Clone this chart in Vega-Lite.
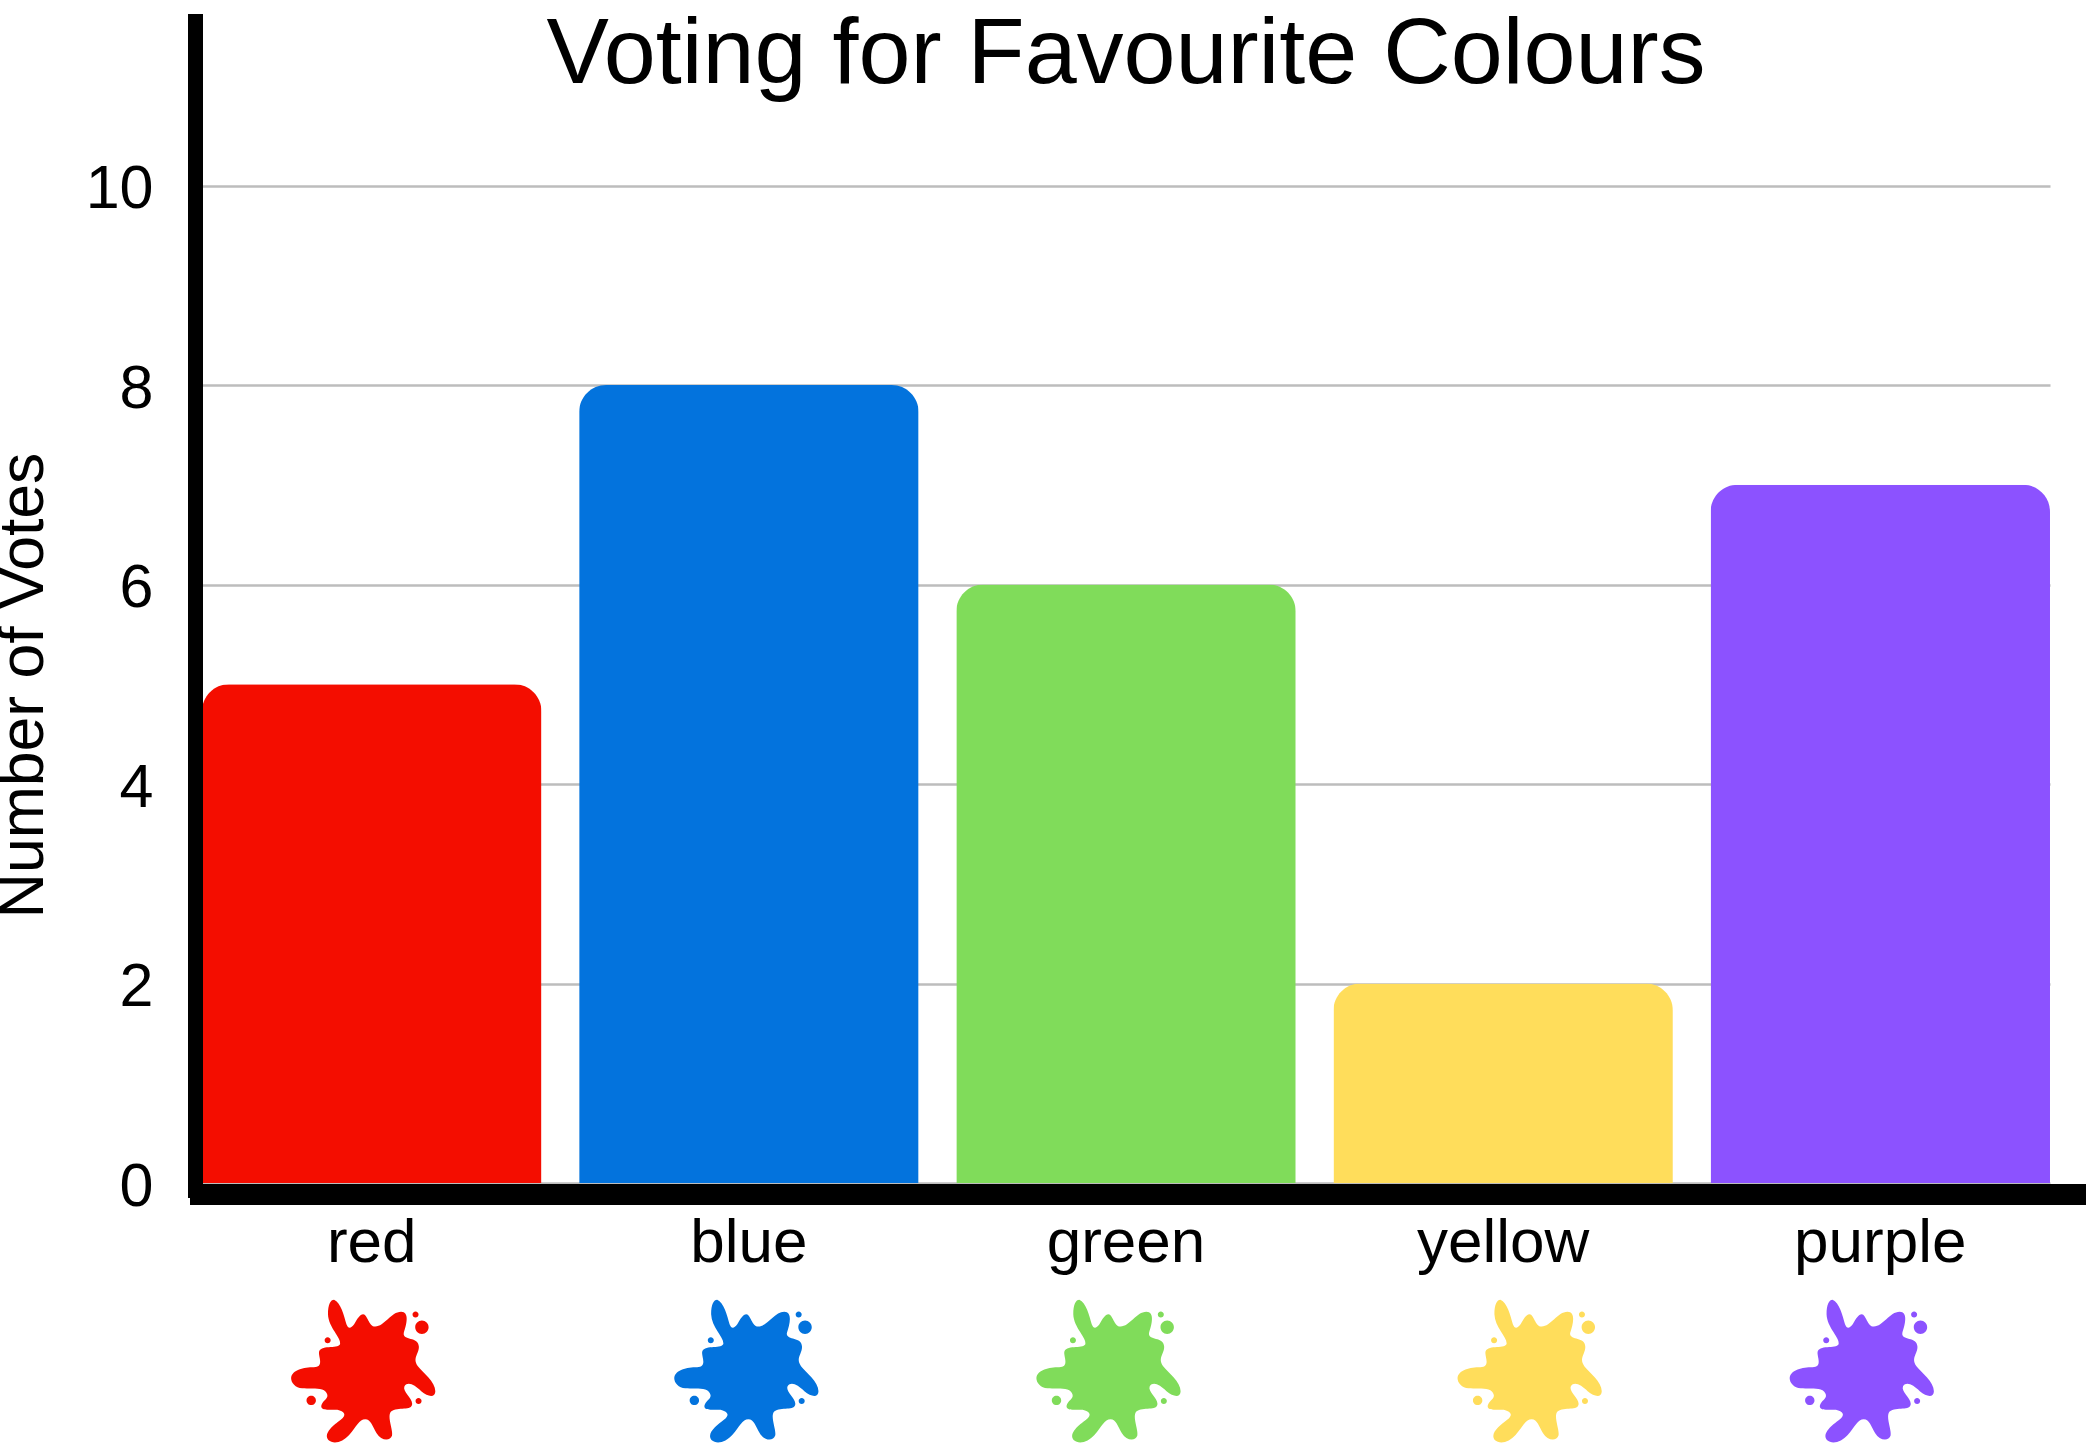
{
"$schema":"https://vega.github.io/schema/vega-lite/v6.json",
"width":1848,"height":1169,
"autosize":{"type":"none"},
"padding":{"left":202,"top":14,"right":38,"bottom":267},
"background":"white",
"view":{"stroke":null},
"data":{"values":[
{"colour":"red","votes":5},
{"colour":"blue","votes":8},
{"colour":"green","votes":6},
{"colour":"yellow","votes":2},
{"colour":"purple","votes":7}
]},
"resolve":{"scale":{"x":"independent"},"axis":{"x":"independent"}},
"layer":[
{"encoding":{"x":{"field":"colour","type":"nominal","sort":null,
 "scale":{"domain":["red","blue","green","yellow","purple"],"paddingInner":0.1,"paddingOuter":0},
 "axis":{"title":null,"domain":false,"ticks":false,"labelAngle":0,"labelFont":"Liberation Sans","labelFontSize":62,"labelColor":"black","labelPadding":29,"labelBaseline":"top","zindex":1}}},
 "layer":[
 {"mark":{"type":"bar","cornerRadiusTopLeft":27,"cornerRadiusTopRight":27},
  "encoding":{
   "y":{"field":"votes","type":"quantitative","scale":{"domain":[0,11.72],"nice":false,"zero":true},
    "axis":{"title":"Number of Votes","titleFont":"Liberation Sans","titleFontSize":62.5,"titleFontWeight":"normal","titleColor":"black","titleAnchor":null,"titleAlign":"center","titleBaseline":"alphabetic","titleX":-160,"titleY":671,"values":[0,2,4,6,8,10],"format":"d","domain":false,"ticks":false,"grid":true,"gridColor":"#bdbdbd","gridWidth":2.5,"labelFont":"Liberation Sans","labelFontSize":61,"labelColor":"black","labelPadding":49,"labelOffset":4,"zindex":0}},
   "color":{"field":"colour","type":"nominal","legend":null,"scale":{"domain":["red","blue","green","yellow","purple"],"range":["#f40d00","#0373dd","#80dc5a","#ffdd5b","#8c52ff"]}}
  }},
 {"transform":[{"filter":"datum.colour==='red'"}],"mark":{"type":"point","filled":true,"opacity":1,"xOffset":-7.5,"size":0.45,"color":"#f40d00","shape":"M-90,-208C-70,-200,-60,-160,-53,-135C-47,-120,-40,-122,-30,-135C-20,-152,-13,-165,-3,-165C10,-165,13,-128,33,-128C60,-128,80,-172,110,-172C135,-172,127,-135,118,-110C113,-85,163,-100,163,-68C163,-45,143,-35,160,-10C175,10,212,35,212,65C212,85,190,82,170,65C150,45,130,35,120,50C113,65,143,85,143,102C143,125,100,110,80,125C67,140,87,180,83,197C77,215,50,212,37,190C25,170,20,148,3,148C-15,148,-23,170,-45,195C-63,215,-90,225,-107,210C-123,190,-90,165,-70,150C-50,135,-60,125,-80,120C-100,118,-130,125,-128,108C-125,92,-107,88,-110,75C-115,50,-155,58,-185,56C-205,54,-218,40,-218,25C-215,0,-180,-7,-150,-7C-120,-7,-135,-35,-135,-50C-133,-75,-80,-60,-72,-75C-67,-95,-107,-125,-108,-165C-108,-195,-100,-208,-90,-208ZM152,-126a20,20 0 1,0 40,0a20,20 0 1,0 -40,0ZM144,-164a9,9 0 1,0 18,0a9,9 0 1,0 -18,0ZM-118,-87a9,9 0 1,0 18,0a9,9 0 1,0 -18,0ZM-172,92a14,14 0 1,0 28,0a14,14 0 1,0 -28,0ZM153,94a9,9 0 1,0 18,0a9,9 0 1,0 -18,0Z"},"encoding":{"y":{"datum":-1.87}}},
 {"transform":[{"filter":"datum.colour==='blue'"}],"mark":{"type":"point","filled":true,"opacity":1,"xOffset":-1.5,"size":0.45,"color":"#0373dd","shape":"M-90,-208C-70,-200,-60,-160,-53,-135C-47,-120,-40,-122,-30,-135C-20,-152,-13,-165,-3,-165C10,-165,13,-128,33,-128C60,-128,80,-172,110,-172C135,-172,127,-135,118,-110C113,-85,163,-100,163,-68C163,-45,143,-35,160,-10C175,10,212,35,212,65C212,85,190,82,170,65C150,45,130,35,120,50C113,65,143,85,143,102C143,125,100,110,80,125C67,140,87,180,83,197C77,215,50,212,37,190C25,170,20,148,3,148C-15,148,-23,170,-45,195C-63,215,-90,225,-107,210C-123,190,-90,165,-70,150C-50,135,-60,125,-80,120C-100,118,-130,125,-128,108C-125,92,-107,88,-110,75C-115,50,-155,58,-185,56C-205,54,-218,40,-218,25C-215,0,-180,-7,-150,-7C-120,-7,-135,-35,-135,-50C-133,-75,-80,-60,-72,-75C-67,-95,-107,-125,-108,-165C-108,-195,-100,-208,-90,-208ZM152,-126a20,20 0 1,0 40,0a20,20 0 1,0 -40,0ZM144,-164a9,9 0 1,0 18,0a9,9 0 1,0 -18,0ZM-118,-87a9,9 0 1,0 18,0a9,9 0 1,0 -18,0ZM-172,92a14,14 0 1,0 28,0a14,14 0 1,0 -28,0ZM153,94a9,9 0 1,0 18,0a9,9 0 1,0 -18,0Z"},"encoding":{"y":{"datum":-1.87}}},
 {"transform":[{"filter":"datum.colour==='green'"}],"mark":{"type":"point","filled":true,"opacity":1,"xOffset":-16.5,"size":0.45,"color":"#80dc5a","shape":"M-90,-208C-70,-200,-60,-160,-53,-135C-47,-120,-40,-122,-30,-135C-20,-152,-13,-165,-3,-165C10,-165,13,-128,33,-128C60,-128,80,-172,110,-172C135,-172,127,-135,118,-110C113,-85,163,-100,163,-68C163,-45,143,-35,160,-10C175,10,212,35,212,65C212,85,190,82,170,65C150,45,130,35,120,50C113,65,143,85,143,102C143,125,100,110,80,125C67,140,87,180,83,197C77,215,50,212,37,190C25,170,20,148,3,148C-15,148,-23,170,-45,195C-63,215,-90,225,-107,210C-123,190,-90,165,-70,150C-50,135,-60,125,-80,120C-100,118,-130,125,-128,108C-125,92,-107,88,-110,75C-115,50,-155,58,-185,56C-205,54,-218,40,-218,25C-215,0,-180,-7,-150,-7C-120,-7,-135,-35,-135,-50C-133,-75,-80,-60,-72,-75C-67,-95,-107,-125,-108,-165C-108,-195,-100,-208,-90,-208ZM152,-126a20,20 0 1,0 40,0a20,20 0 1,0 -40,0ZM144,-164a9,9 0 1,0 18,0a9,9 0 1,0 -18,0ZM-118,-87a9,9 0 1,0 18,0a9,9 0 1,0 -18,0ZM-172,92a14,14 0 1,0 28,0a14,14 0 1,0 -28,0ZM153,94a9,9 0 1,0 18,0a9,9 0 1,0 -18,0Z"},"encoding":{"y":{"datum":-1.87}}},
 {"transform":[{"filter":"datum.colour==='yellow'"}],"mark":{"type":"point","filled":true,"opacity":1,"xOffset":27.5,"size":0.45,"color":"#ffdd5b","shape":"M-90,-208C-70,-200,-60,-160,-53,-135C-47,-120,-40,-122,-30,-135C-20,-152,-13,-165,-3,-165C10,-165,13,-128,33,-128C60,-128,80,-172,110,-172C135,-172,127,-135,118,-110C113,-85,163,-100,163,-68C163,-45,143,-35,160,-10C175,10,212,35,212,65C212,85,190,82,170,65C150,45,130,35,120,50C113,65,143,85,143,102C143,125,100,110,80,125C67,140,87,180,83,197C77,215,50,212,37,190C25,170,20,148,3,148C-15,148,-23,170,-45,195C-63,215,-90,225,-107,210C-123,190,-90,165,-70,150C-50,135,-60,125,-80,120C-100,118,-130,125,-128,108C-125,92,-107,88,-110,75C-115,50,-155,58,-185,56C-205,54,-218,40,-218,25C-215,0,-180,-7,-150,-7C-120,-7,-135,-35,-135,-50C-133,-75,-80,-60,-72,-75C-67,-95,-107,-125,-108,-165C-108,-195,-100,-208,-90,-208ZM152,-126a20,20 0 1,0 40,0a20,20 0 1,0 -40,0ZM144,-164a9,9 0 1,0 18,0a9,9 0 1,0 -18,0ZM-118,-87a9,9 0 1,0 18,0a9,9 0 1,0 -18,0ZM-172,92a14,14 0 1,0 28,0a14,14 0 1,0 -28,0ZM153,94a9,9 0 1,0 18,0a9,9 0 1,0 -18,0Z"},"encoding":{"y":{"datum":-1.87}}},
 {"transform":[{"filter":"datum.colour==='purple'"}],"mark":{"type":"point","filled":true,"opacity":1,"xOffset":-17.5,"size":0.45,"color":"#8c52ff","shape":"M-90,-208C-70,-200,-60,-160,-53,-135C-47,-120,-40,-122,-30,-135C-20,-152,-13,-165,-3,-165C10,-165,13,-128,33,-128C60,-128,80,-172,110,-172C135,-172,127,-135,118,-110C113,-85,163,-100,163,-68C163,-45,143,-35,160,-10C175,10,212,35,212,65C212,85,190,82,170,65C150,45,130,35,120,50C113,65,143,85,143,102C143,125,100,110,80,125C67,140,87,180,83,197C77,215,50,212,37,190C25,170,20,148,3,148C-15,148,-23,170,-45,195C-63,215,-90,225,-107,210C-123,190,-90,165,-70,150C-50,135,-60,125,-80,120C-100,118,-130,125,-128,108C-125,92,-107,88,-110,75C-115,50,-155,58,-185,56C-205,54,-218,40,-218,25C-215,0,-180,-7,-150,-7C-120,-7,-135,-35,-135,-50C-133,-75,-80,-60,-72,-75C-67,-95,-107,-125,-108,-165C-108,-195,-100,-208,-90,-208ZM152,-126a20,20 0 1,0 40,0a20,20 0 1,0 -40,0ZM144,-164a9,9 0 1,0 18,0a9,9 0 1,0 -18,0ZM-118,-87a9,9 0 1,0 18,0a9,9 0 1,0 -18,0ZM-172,92a14,14 0 1,0 28,0a14,14 0 1,0 -28,0ZM153,94a9,9 0 1,0 18,0a9,9 0 1,0 -18,0Z"},"encoding":{"y":{"datum":-1.87}}}
 ]},
{"mark":{"type":"rule","color":"black","strokeWidth":15,"xOffset":-6.5,"strokeCap":"butt"},
 "encoding":{"x":{"datum":0,"type":"quantitative","axis":null,"scale":{"domain":[0,1],"range":[0,1848]}},"y":{"datum":-0.15},"y2":{"datum":11.72}}},
{"mark":{"type":"rule","color":"black","strokeWidth":21,"yOffset":11.5,"strokeCap":"butt"},
 "encoding":{"x":{"datum":0,"type":"quantitative","axis":null,"scale":{"domain":[0,1],"range":[-12,1884]}},"x2":{"datum":1},"y":{"datum":0}}},
{"data":{"values":[{"heading":"Voting for Favourite Colours"}]},
 "mark":{"type":"text","font":"Liberation Sans","fontSize":93.5,"fontWeight":"normal","color":"black","align":"center","baseline":"alphabetic"},
 "encoding":{"text":{"field":"heading","type":"nominal"},"x":{"datum":0.5,"type":"quantitative","axis":null,"scale":{"domain":[0,1],"range":[0,1848]}},"y":{"datum":11.03}}}
]
}
